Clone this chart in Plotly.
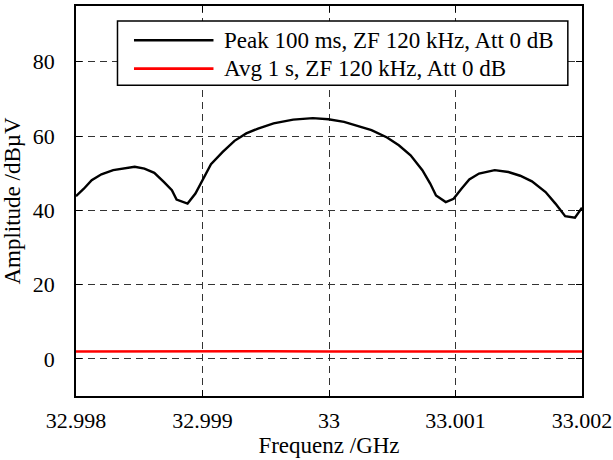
import plotly.graph_objects as go

# Data
freq_peak = [32.998000, 32.998062, 32.998124, 32.998201, 32.998294, 32.998387, 32.998464,
             32.998541, 32.998619, 32.998696, 32.998758, 32.998795, 32.998882, 32.998944,
             32.998990, 32.999067, 32.999160, 32.999253, 32.999346, 32.999439, 32.999562,
             32.999717, 32.999872, 32.999995, 33.000119, 33.000212, 33.000336, 33.000459,
             33.000552, 33.000645, 33.000738, 33.000800, 33.000846, 33.000923, 33.000985,
             33.001047, 33.001109, 33.001186, 33.001310, 33.001418, 33.001511, 33.001604,
             33.001712, 33.001790, 33.001867, 33.001944, 33.002000]
amp_peak = [43.8, 45.8, 48.1, 49.7, 50.8, 51.2, 51.7,
            51.2, 50.1, 47.6, 45.4, 42.9, 41.8, 44.5,
            47.6, 52.4, 55.7, 58.7, 60.7, 62.0, 63.4,
            64.4, 64.8, 64.5, 63.8, 62.9, 61.6, 59.6,
            57.5, 54.8, 50.8, 47.2, 44.0, 42.2, 43.1,
            45.8, 48.3, 49.9, 50.8, 50.3, 49.3, 47.8,
            44.9, 41.8, 38.4, 38.0, 40.7]

freq_avg = [32.998, 32.9985, 32.999, 32.9995, 33.0, 33.0005, 33.001, 33.0015, 33.002]
amp_avg = [2.0, 2.05, 2.0, 2.05, 2.0, 2.0, 1.95, 2.0, 2.0]

name_peak = "Peak 100 ms, ZF 120 kHz, Att 0 dB"
name_avg = "Avg 1 s, ZF 120 kHz, Att 0 dB"

x_ticks = [32.998, 32.999, 33.0, 33.001, 33.002]
x_ticktext = ["32.998", "32.999", "33", "33.001", "33.002"]
y_ticks = [0, 20, 40, 60, 80]

FONT = "Liberation Serif"
FS = 23
TFS = 22

fig = go.Figure()
fig.add_trace(go.Scatter(x=freq_peak, y=amp_peak, mode="lines", name=name_peak,
                         line=dict(color="black", width=2.4), showlegend=False))
fig.add_trace(go.Scatter(x=freq_avg, y=amp_avg, mode="lines", name=name_avg,
                         line=dict(color="#ff0000", width=2.6), showlegend=False))

# Legend drawn in paper coordinates
lx0, lx1, ly0, ly1 = 0.082, 0.972, 0.797, 0.9615
fig.add_shape(type="rect", xref="paper", yref="paper", x0=lx0, x1=lx1, y0=ly0, y1=ly1,
              line=dict(color="black", width=1.5), fillcolor="white", layer="above")
rows = [(name_peak, "black", 0.912), (name_avg, "#ff0000", 0.8395)]
for txt, col, yy in rows:
    fig.add_shape(type="line", xref="paper", yref="paper", x0=0.1146, x1=0.2717, y0=yy, y1=yy,
                  line=dict(color=col, width=2.6), layer="above")
    fig.add_annotation(xref="paper", yref="paper", x=0.2885, y=yy, text=txt, showarrow=False,
                       xanchor="left", yanchor="middle", font=dict(family=FONT, size=FS, color="black"))

axis_common = dict(showline=True, linecolor="black", linewidth=1.5, mirror="ticks",
                   ticks="inside", ticklen=6, tickwidth=1.2, tickcolor="black",
                   showgrid=True, gridcolor="#333333", gridwidth=1, griddash="7px,5px",
                   zeroline=False, automargin=False, ticklabeloverflow="allow",
                   tickfont=dict(family=FONT, size=TFS, color="black"))

fig.update_xaxes(range=[32.998, 33.002], tickvals=x_ticks, ticktext=x_ticktext,
                 title=dict(text="Frequenz /GHz", font=dict(family=FONT, size=FS, color="black"), standoff=4),
                 ticklabelstandoff=4, **axis_common)
fig.update_yaxes(range=[-10, 95], tickvals=y_ticks,
                 title=dict(text="Amplitude /dBµV", font=dict(family=FONT, size=FS, color="black"), standoff=6),
                 ticklabelstandoff=15, **axis_common)

fig.update_layout(width=613, height=460, margin=dict(l=76, r=31, t=6, b=64),
                  paper_bgcolor="white", plot_bgcolor="white",
                  font=dict(family=FONT, size=FS, color="black"))

fig.write_html("out.html")
